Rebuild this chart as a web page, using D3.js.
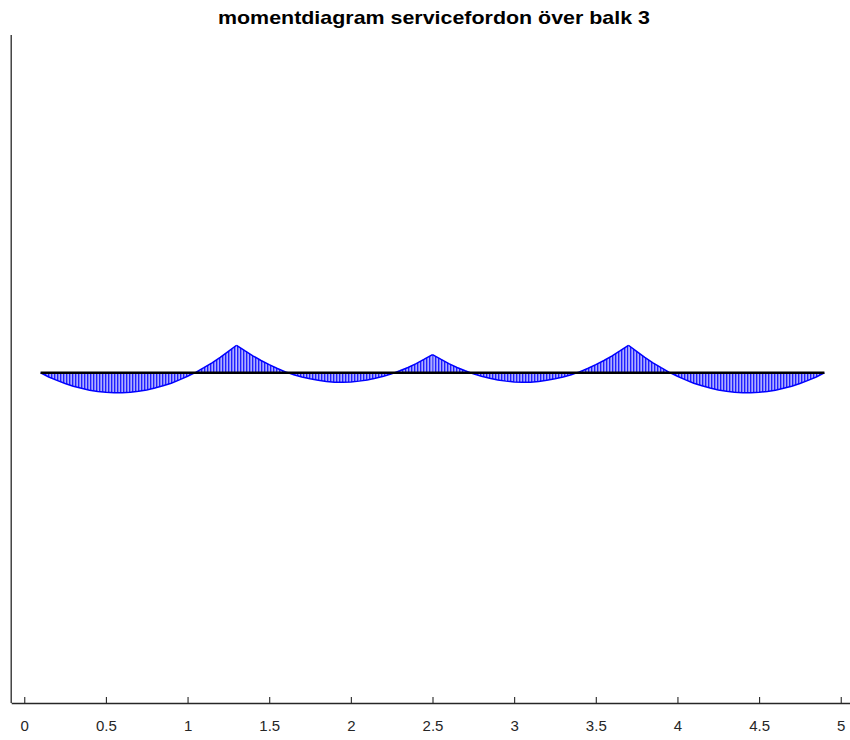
<!DOCTYPE html>
<html>
<head>
<meta charset="utf-8">
<script src="https://cdn.jsdelivr.net/npm/d3@7"></script>
<style>
  html, body { margin: 0; padding: 0; background: #fff; }
  svg { display: block; }
</style>
</head>
<body>
<svg id="chart" width="850" height="740"></svg>
<script>
// Supports of the four-span beam (m)
const supports = [0.1, 1.3, 2.5, 3.7, 4.9];

// Stations along each span, measured from the span's left support (m)
const stations = [0, 0.05, 0.1, 0.15, 0.2, 0.25, 0.3, 0.35, 0.4, 0.45, 0.5, 0.55,
                  0.6, 0.65, 0.7, 0.75, 0.8, 0.85, 0.9, 0.95, 1.0, 1.05, 1.1, 1.15, 1.2];

// Bending moment at each station (kNm), hogging drawn upwards
const span1Moment = [0, -1.6, -2.9, -4.1, -5.2, -6.0, -6.7, -7.2, -7.5, -7.7, -7.7, -7.5,
                     -7.1, -6.6, -5.9, -5.0, -4.0, -2.7, -1.3, 0.2, 2.0, 3.9, 6.0, 8.3, 10.7];
const span2Moment = [10.7, 8.6, 6.6, 4.8, 3.2, 1.7, 0.4, -0.7, -1.6, -2.3, -2.9, -3.3,
                     -3.6, -3.6, -3.5, -3.2, -2.8, -2.1, -1.3, -0.4, 0.8, 2.1, 3.6, 5.3, 7.1];
const span3Moment = [7.1, 5.3, 3.6, 2.1, 0.8, -0.4, -1.3, -2.1, -2.8, -3.2, -3.5, -3.6,
                     -3.6, -3.3, -2.9, -2.3, -1.6, -0.7, 0.4, 1.7, 3.2, 4.8, 6.6, 8.6, 10.7];
const span4Moment = [10.7, 8.3, 6.0, 3.9, 2.0, 0.2, -1.3, -2.7, -4.0, -5.0, -5.9, -6.6,
                     -7.1, -7.5, -7.7, -7.7, -7.5, -7.2, -6.7, -6.0, -5.2, -4.1, -2.9, -1.6, 0];

const xTicks = [0, 0.5, 1, 1.5, 2, 2.5, 3, 3.5, 4, 4.5, 5];
const titleText = "momentdiagram servicefordon över balk 3";

const spans = [span1Moment, span2Moment, span3Moment, span4Moment].map((m, i) =>
  stations.map((s, j) => ({ x: supports[i] + s, m: m[j] })));

const svg = d3.select("#chart");

const x = d3.scaleLinear().domain([-0.08, 5.08]).range([11.2, 853.8]);
const y = d3.scaleLinear().domain([-128, 131]).range([703, 35]);

// hatch of thin vertical lines laid over the filled area
const defs = svg.append("defs");
const pat = defs.append("pattern")
  .attr("id", "hatch")
  .attr("patternUnits", "userSpaceOnUse")
  .attr("width", 3).attr("height", 10);
pat.append("rect").attr("width", 3).attr("height", 10).attr("fill", "#7a7aff");
pat.append("rect").attr("x", 0).attr("width", 1).attr("height", 10).attr("fill", "#1f1fff");
pat.append("rect").attr("x", 2).attr("width", 0.6).attr("height", 10).attr("fill", "#d0d0ff");

const area = d3.area()
  .x(d => x(d.x))
  .y0(y(0))
  .y1(d => y(d.m));

const line = d3.line()
  .x(d => x(d.x))
  .y(d => y(d.m));

const g = svg.append("g");

g.selectAll("path.fill")
  .data(spans)
  .join("path")
  .attr("class", "fill")
  .attr("d", area)
  .attr("fill", "url(#hatch)");

g.selectAll("path.outline")
  .data(spans)
  .join("path")
  .attr("class", "outline")
  .attr("d", line)
  .attr("fill", "none")
  .attr("stroke", "#0000ff")
  .attr("stroke-width", 1.5);

// beam axis
g.append("line")
  .attr("x1", x(supports[0])).attr("x2", x(supports[supports.length - 1]))
  .attr("y1", y(0)).attr("y2", y(0))
  .attr("stroke", "#000")
  .attr("stroke-width", 2.5);

// axes
const axisColor = "#262626";
const xAxis = d3.axisBottom(x)
  .tickValues(xTicks)
  .tickSize(-6)
  .tickSizeOuter(0)
  .tickPadding(17)
  .tickFormat(d3.format("~g"));

const xg = svg.append("g")
  .attr("transform", `translate(0,${y.range()[0]})`)
  .call(xAxis);
xg.select(".domain").attr("stroke", axisColor).attr("stroke-width", 1.3);
xg.selectAll(".tick line").attr("stroke", axisColor).attr("stroke-width", 1.1);
xg.selectAll(".tick text")
  .attr("fill", axisColor)
  .attr("font-family", "'Liberation Sans', Arial, Helvetica, sans-serif")
  .attr("font-size", 15);

svg.append("line")
  .attr("x1", 11.2).attr("x2", 11.2)
  .attr("y1", y.range()[1]).attr("y2", y.range()[0])
  .attr("stroke", axisColor)
  .attr("stroke-width", 1.3);

svg.append("text")
  .attr("x", 434).attr("y", 24)
  .attr("text-anchor", "middle")
  .attr("font-family", "'Liberation Sans', Arial, Helvetica, sans-serif")
  .attr("font-weight", "bold")
  .attr("font-size", 19)
  .attr("textLength", 432)
  .attr("lengthAdjust", "spacingAndGlyphs")
  .attr("fill", "#000")
  .text(titleText);
</script>
</body>
</html>
